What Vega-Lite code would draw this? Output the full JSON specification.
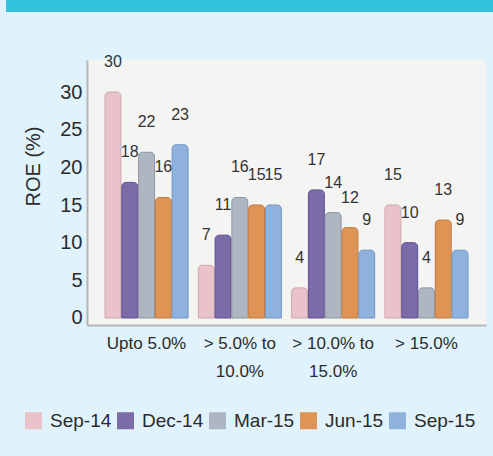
{
  "$schema": "https://vega.github.io/schema/vega-lite/v6.json",
  "background": "#e0f2fb",
  "padding": {"left": 6, "top": 0, "right": 0, "bottom": 26},
  "spacing": 42,
  "columns": 1,
  "resolve": {"legend": {"color": "independent"}},
  "config": {
    "font": "Liberation Sans",
    "view": {"stroke": null}
  },
  "datasets": {
    "roe": [
      {"band": "Upto 5.0%", "period": "Sep-14", "value": 30},
      {"band": "Upto 5.0%", "period": "Dec-14", "value": 18},
      {"band": "Upto 5.0%", "period": "Mar-15", "value": 22},
      {"band": "Upto 5.0%", "period": "Jun-15", "value": 16},
      {"band": "Upto 5.0%", "period": "Sep-15", "value": 23},
      {"band": "> 5.0% to 10.0%", "period": "Sep-14", "value": 7},
      {"band": "> 5.0% to 10.0%", "period": "Dec-14", "value": 11},
      {"band": "> 5.0% to 10.0%", "period": "Mar-15", "value": 16},
      {"band": "> 5.0% to 10.0%", "period": "Jun-15", "value": 15},
      {"band": "> 5.0% to 10.0%", "period": "Sep-15", "value": 15},
      {"band": "> 10.0% to 15.0%", "period": "Sep-14", "value": 4},
      {"band": "> 10.0% to 15.0%", "period": "Dec-14", "value": 17},
      {"band": "> 10.0% to 15.0%", "period": "Mar-15", "value": 14},
      {"band": "> 10.0% to 15.0%", "period": "Jun-15", "value": 12},
      {"band": "> 10.0% to 15.0%", "period": "Sep-15", "value": 9},
      {"band": "> 15.0%", "period": "Sep-14", "value": 15},
      {"band": "> 15.0%", "period": "Dec-14", "value": 10},
      {"band": "> 15.0%", "period": "Mar-15", "value": 4},
      {"band": "> 15.0%", "period": "Jun-15", "value": 13},
      {"band": "> 15.0%", "period": "Sep-15", "value": 9}
    ],
    "one": [{"k": 1}],
    "none": []
  },
  "concat": [
    {
      "width": 487,
      "height": 12,
      "data": {"name": "one"},
      "mark": {"type": "rect", "color": "#34c3de"},
      "encoding": {}
    },
    {
      "resolve": {"legend": {"color": "independent"}},
      "spacing": 0,
      "hconcat": [
        {
          "width": 1,
          "height": 265,
          "data": {"name": "none"},
          "mark": {"type": "rect", "color": "#34c3de"},
          "encoding": {}
        },
        {
          "width": 399,
          "height": 265,
          "view": {"fill": "#f4f4f3", "stroke": null},
          "data": {"name": "roe"},
          "encoding": {
            "x": {
              "field": "band",
              "type": "nominal",
              "sort": ["Upto 5.0%", "> 5.0% to 10.0%", "> 10.0% to 15.0%", "> 15.0%"],
              "scale": {"paddingInner": 0.11, "paddingOuter": 0.193},
              "axis": {
                "title": " ",
                "titleX": -80,
                "titleY": 10,
                "titleAlign": "left",
                "titleFontSize": 8,
                "labelAngle": 0,
                "labelFontSize": 17,
                "labelColor": "#2b2b2b",
                "labelLineHeight": 28,
                "labelPadding": 10,
                "ticks": false,
                "domainColor": "#b5b5b5",
                "domainWidth": 2,
                "labelExpr": "indexof(datum.value, ' to ') > 0 ? [slice(datum.value, 0, indexof(datum.value, ' to ') + 3), slice(datum.value, indexof(datum.value, ' to ') + 4)] : datum.value"
              }
            },
            "xOffset": {
              "field": "period",
              "type": "nominal",
              "sort": ["Sep-14", "Dec-14", "Mar-15", "Jun-15", "Sep-15"],
              "scale": {"paddingInner": 0.05}
            },
            "y": {
              "field": "value",
              "type": "quantitative",
              "scale": {"domain": [-0.93, 34.25], "nice": false, "zero": false},
              "axis": {
                "values": [0, 5, 10, 15, 20, 25, 30],
                "title": "ROE (%)",
                "titleFontSize": 20,
                "titleFontWeight": "normal",
                "titleColor": "#2b2b2b",
                "titleX": -54,
                "titleY": 106,
                "titleAngle": 270,
                "titleAlign": "center",
                "titleBaseline": "middle",
                "labelFontSize": 20,
                "labelColor": "#2b2b2b",
                "labelPadding": 5,
                "ticks": false,
                "grid": false,
                "domainColor": "#b5b5b5",
                "domainWidth": 2
              }
            }
          },
          "layer": [
            {
              "mark": {"type": "bar", "cornerRadiusTopLeft": 4, "cornerRadiusTopRight": 4, "strokeWidth": 1},
              "encoding": {
                "y2": {"datum": 0},
                "stroke": {
                  "field": "period",
                  "type": "nominal",
                  "scale": {
                    "domain": ["Sep-14", "Dec-14", "Mar-15", "Jun-15", "Sep-15"],
                    "range": ["#cfa7ad", "#5f5190", "#8d96a3", "#c27a3e", "#7096c4"]
                  },
                  "legend": null
                },
                "color": {
                  "field": "period",
                  "type": "nominal",
                  "sort": ["Sep-14", "Dec-14", "Mar-15", "Jun-15", "Sep-15"],
                  "scale": {
                    "domain": ["Sep-14", "Dec-14", "Mar-15", "Jun-15", "Sep-15"],
                    "range": ["#e9c3c9", "#7b6ba8", "#aeb6c2", "#dd9455", "#8fb2dd"]
                  },
                  "legend": {
                    "title": null,
                    "orient": "none",
                    "direction": "horizontal",
                    "columns": 5,
                    "legendX": -63,
                    "legendY": 351,
                    "symbolType": "square",
                    "symbolSize": 289,
                    "symbolStrokeWidth": 0,
                    "labelFontSize": 19,
                    "labelColor": "#2b2b2b",
                    "labelOffset": 7,
                    "columnPadding": 4
                  }
                }
              }
            },
            {
              "mark": {"type": "text", "baseline": "bottom", "dy": -22, "fontSize": 16, "color": "#333333"},
              "encoding": {"text": {"field": "value", "type": "quantitative"}}
            }
          ]
        }
      ]
    }
  ]
}
